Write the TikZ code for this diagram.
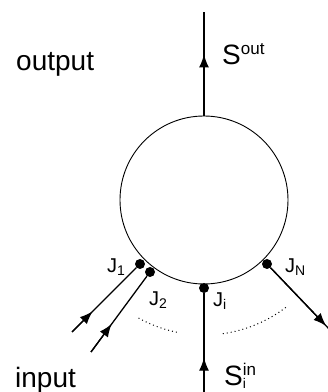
\documentclass[tikz,border=0pt]{standalone}
\usepackage{fontspec}
\setmainfont{Liberation Sans}
\usetikzlibrary{arrows.meta}
\newcommand{\lo}[1]{\raisebox{-3pt}{\fontsize{14}{14}\selectfont #1}}
\newcommand{\hi}[1]{\raisebox{11pt}{\fontsize{17}{17}\selectfont #1}}
\tikzset{
  >={Latex[length=13pt,width=10pt]},
  % system
  sys/.style={circle,draw=black,line width=0.9pt,inner sep=0pt,minimum size=168pt},
  jdot/.style={circle,fill=black,inner sep=0pt,minimum size=10pt},
  flow/.style={draw=black,line width=1.3pt},
  sep/.style={draw=black,line width=1pt,dash pattern=on 1pt off 3pt},
  % text
  big/.style={font=\fontsize{28}{30}\selectfont,anchor=base west,inner sep=0pt},
  jlab/.style={font=\fontsize{20}{22}\selectfont,anchor=base west,inner sep=0pt},
}
\begin{document}
\begin{tikzpicture}[x=1pt,y=1pt]
  \useasboundingbox (0,0) rectangle (328,392);
  \node[sys] (sys) at (204,192) {};
  \node[jdot] (j1) at (140,128) {};
  \node[jdot] (j2) at (150,120) {};
  \node[jdot] (ji) at (204,104) {};
  \node[jdot] (jn) at (267,128) {};
  \coordinate (top) at (204,380);
  \coordinate (in1) at (72,60);
  \coordinate (in2) at (91,40);
  \coordinate (ini) at (204,-2);
  \coordinate (inn) at (331,61);
  % lines, with the tip points on them
  \draw[flow] (sys.north) -- coordinate[pos=0.59] (tout) (top);
  \draw[flow] (in1) -- coordinate[pos=0.32] (t1) (j1);
  \draw[flow] (in2) -- coordinate[pos=0.37] (t2) (j2);
  \draw[flow] (ini) -- coordinate[pos=0.36] (ti) (ji);
  \draw[flow] (jn) -- coordinate[pos=0.92] (tn) (inn);
  \draw[flow,->] (sys.north) -- (tout);
  \draw[flow,->] (in1) -- (t1);
  \draw[flow,->] (in2) -- (t2);
  \draw[flow,->] (ini) -- (ti);
  \draw[flow,->] (jn) -- (tn);
  \draw[sep] (sys.center) ++(241:135) arc[start angle=241,end angle=259,radius=135];
  \draw[sep] (sys.center) ++(278:135) arc[start angle=278,end angle=308,radius=135];
  \node[big] (lout) at (16,321) {output};
  \node[big] (lin) at (15,5) {input};
  \node[big] (sout) at (222,327) {S\hi{out}};
  \node[big] (sin) at (224,6) {S\rlap{\hi{in}}\lo{i}};
  \node[jlab] (l1) at (107,120) {J\lo{1}};
  \node[jlab] (l2) at (149,86) {J\lo{2}};
  \node[jlab] (li) at (213,85) {J\lo{i}};
  \node[jlab] (ln) at (285,120) {J\lo{N}};
\end{tikzpicture}
\end{document}
